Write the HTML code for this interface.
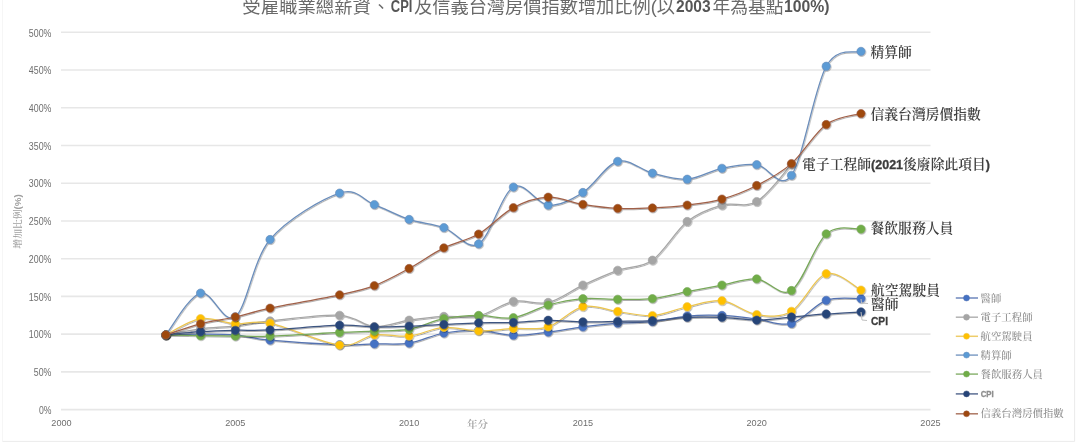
<!DOCTYPE html>
<html><head><meta charset="utf-8"><title>受雇職業總薪資、CPI及信義台灣房價指數增加比例</title>
<style>
html,body{margin:0;padding:0;background:#fff;}
body{width:1076px;height:442px;overflow:hidden;}
svg{display:block;filter:blur(0.3px);}
.ax{font-family:"Liberation Sans","Noto Sans CJK TC",sans-serif;font-size:10px;fill:#6e6e6e;}
.lab{font-family:"Liberation Serif","Noto Serif CJK TC","Noto Serif CJK SC",serif;font-size:13.8px;font-weight:600;fill:#404040;}
.labb{font-family:"Liberation Sans","Noto Sans CJK TC",sans-serif;font-weight:bold;font-size:11.5px;fill:#3c3c3c;stroke:#3c3c3c;stroke-width:0.3px;}
.leg{font-family:"Liberation Serif","Noto Serif CJK TC","Noto Serif CJK SC",serif;font-size:10.4px;font-weight:500;fill:#8c8c8c;}
.legs{font-family:"Liberation Sans",sans-serif;font-size:9.3px;font-weight:bold;fill:#8e8e8e;stroke:#8e8e8e;stroke-width:0.35px;}
.ttl{font-family:"Liberation Sans","Noto Sans CJK TC",sans-serif;font-weight:400;font-size:18px;fill:#6a6a6a;}
.ttlb{font-family:"Liberation Sans","Noto Sans CJK TC",sans-serif;font-weight:bold;font-size:16px;fill:#555;}
</style></head><body>
<svg width="1076" height="442" viewBox="0 0 1076 442">
<defs><filter id="sh" filterUnits="userSpaceOnUse" x="0" y="0" width="1076" height="442"><feDropShadow dx="0.6" dy="0.9" stdDeviation="0.6" flood-color="#000" flood-opacity="0.35"/></filter></defs>
<line x1="2.5" y1="0" x2="2.5" y2="441.5" stroke="#f6f6f6" stroke-width="1"/><line x1="1074.6" y1="0" x2="1074.6" y2="441.5" stroke="#ebebeb" stroke-width="1"/><line x1="2.5" y1="441.4" x2="1074.6" y2="441.4" stroke="#ebebeb" stroke-width="1"/>
<g><text class="ttl" x="242.3" y="12.5" textLength="128.6" lengthAdjust="spacingAndGlyphs">受雇職業總薪資</text><text class="ttl" x="372" y="12.5">、</text><text class="ttlb" x="390.8" y="12" textLength="21.6" lengthAdjust="spacingAndGlyphs">CPI</text><text class="ttl" x="414" y="12.5" textLength="261" lengthAdjust="spacingAndGlyphs">及信義台灣房價指數增加比例(以</text><text class="ttlb" x="676" y="12" textLength="34.6" lengthAdjust="spacingAndGlyphs">2003</text><text class="ttl" x="712.4" y="12.5" textLength="71" lengthAdjust="spacingAndGlyphs">年為基點</text><text class="ttlb" x="784" y="12" textLength="45.5" lengthAdjust="spacingAndGlyphs">100%)</text></g>
<line x1="61" y1="409.60" x2="930.5" y2="409.60" stroke="#e7e7e7" stroke-width="1.6"/><text class="ax" x="38.90" y="413.80" textLength="12.5" lengthAdjust="spacingAndGlyphs">0%</text>
<line x1="61" y1="371.87" x2="930.5" y2="371.87" stroke="#e7e7e7" stroke-width="1.6"/><text class="ax" x="33.80" y="376.07" textLength="17.6" lengthAdjust="spacingAndGlyphs">50%</text>
<line x1="61" y1="334.14" x2="930.5" y2="334.14" stroke="#e7e7e7" stroke-width="1.6"/><text class="ax" x="28.80" y="338.34" textLength="22.6" lengthAdjust="spacingAndGlyphs">100%</text>
<line x1="61" y1="296.41" x2="930.5" y2="296.41" stroke="#e7e7e7" stroke-width="1.6"/><text class="ax" x="28.80" y="300.61" textLength="22.6" lengthAdjust="spacingAndGlyphs">150%</text>
<line x1="61" y1="258.68" x2="930.5" y2="258.68" stroke="#e7e7e7" stroke-width="1.6"/><text class="ax" x="28.80" y="262.88" textLength="22.6" lengthAdjust="spacingAndGlyphs">200%</text>
<line x1="61" y1="220.95" x2="930.5" y2="220.95" stroke="#e7e7e7" stroke-width="1.6"/><text class="ax" x="28.80" y="225.15" textLength="22.6" lengthAdjust="spacingAndGlyphs">250%</text>
<line x1="61" y1="183.22" x2="930.5" y2="183.22" stroke="#e7e7e7" stroke-width="1.6"/><text class="ax" x="28.80" y="187.42" textLength="22.6" lengthAdjust="spacingAndGlyphs">300%</text>
<line x1="61" y1="145.49" x2="930.5" y2="145.49" stroke="#e7e7e7" stroke-width="1.6"/><text class="ax" x="28.80" y="149.69" textLength="22.6" lengthAdjust="spacingAndGlyphs">350%</text>
<line x1="61" y1="107.76" x2="930.5" y2="107.76" stroke="#e7e7e7" stroke-width="1.6"/><text class="ax" x="28.80" y="111.96" textLength="22.6" lengthAdjust="spacingAndGlyphs">400%</text>
<line x1="61" y1="70.03" x2="930.5" y2="70.03" stroke="#e7e7e7" stroke-width="1.6"/><text class="ax" x="28.80" y="74.23" textLength="22.6" lengthAdjust="spacingAndGlyphs">450%</text>
<line x1="61" y1="32.30" x2="930.5" y2="32.30" stroke="#e7e7e7" stroke-width="1.6"/><text class="ax" x="28.80" y="36.50" textLength="22.6" lengthAdjust="spacingAndGlyphs">500%</text>
<text class="ax" x="51.35" y="426.4" style="font-size:9.4px" textLength="20.3" lengthAdjust="spacingAndGlyphs">2000</text><text class="ax" x="225.15" y="426.4" style="font-size:9.4px" textLength="20.3" lengthAdjust="spacingAndGlyphs">2005</text><text class="ax" x="398.95" y="426.4" style="font-size:9.4px" textLength="20.3" lengthAdjust="spacingAndGlyphs">2010</text><text class="ax" x="572.75" y="426.4" style="font-size:9.4px" textLength="20.3" lengthAdjust="spacingAndGlyphs">2015</text><text class="ax" x="746.55" y="426.4" style="font-size:9.4px" textLength="20.3" lengthAdjust="spacingAndGlyphs">2020</text><text class="ax" x="920.35" y="426.4" style="font-size:9.4px" textLength="20.3" lengthAdjust="spacingAndGlyphs">2025</text>
<text x="467" y="428" style="font-family:'Liberation Serif','Noto Serif CJK TC','Noto Serif CJK SC',serif;font-size:10.5px;font-weight:600;fill:#a0a0a0">年分</text>
<text transform="translate(21.3,221.4) rotate(-90)" text-anchor="middle" style="font-family:'Liberation Serif','Noto Serif CJK TC','Noto Serif CJK SC',serif;font-size:8.6px;font-weight:600;fill:#a0a0a0" textLength="54.5" lengthAdjust="spacingAndGlyphs">增加比例<tspan style="font-family:'Liberation Sans',sans-serif;font-weight:bold">(%)</tspan></text>
<g filter="url(#sh)"><path d="M165.78,334.89 C171.57,334.77 188.95,334.14 200.54,334.14 C212.13,334.14 223.71,333.89 235.30,334.89 C246.89,335.90 252.68,338.54 270.06,340.18 C287.44,341.81 322.20,344.09 339.58,344.70 C356.96,345.32 362.75,344.14 374.34,343.87 C385.93,343.61 397.51,344.93 409.10,343.12 C420.69,341.31 432.27,335.13 443.86,333.01 C455.45,330.88 467.03,330.00 478.62,330.37 C490.21,330.73 501.79,334.92 513.38,335.20 C524.97,335.47 536.55,333.41 548.14,332.03 C559.73,330.64 571.31,328.37 582.90,326.90 C594.49,325.42 606.07,324.07 617.66,323.20 C629.25,322.33 640.83,322.88 652.42,321.69 C664.01,320.49 675.59,317.07 687.18,316.03 C698.77,314.99 710.35,314.92 721.94,315.43 C733.53,315.93 745.11,317.70 756.70,319.05 C768.29,320.39 779.87,326.62 791.46,323.50 C803.05,320.38 814.63,304.47 826.22,300.33 C837.81,296.20 855.19,298.95 860.98,298.67" fill="none" stroke="#5472b0" stroke-width="1.25" stroke-linejoin="round"/>
<circle cx="165.78" cy="334.89" r="4.15" fill="#4472C4" stroke="#5472b0" stroke-width="0.6"/><circle cx="200.54" cy="334.14" r="4.15" fill="#4472C4" stroke="#5472b0" stroke-width="0.6"/><circle cx="235.30" cy="334.89" r="4.15" fill="#4472C4" stroke="#5472b0" stroke-width="0.6"/><circle cx="270.06" cy="340.18" r="4.15" fill="#4472C4" stroke="#5472b0" stroke-width="0.6"/><circle cx="339.58" cy="344.70" r="4.15" fill="#4472C4" stroke="#5472b0" stroke-width="0.6"/><circle cx="374.34" cy="343.87" r="4.15" fill="#4472C4" stroke="#5472b0" stroke-width="0.6"/><circle cx="409.10" cy="343.12" r="4.15" fill="#4472C4" stroke="#5472b0" stroke-width="0.6"/><circle cx="443.86" cy="333.01" r="4.15" fill="#4472C4" stroke="#5472b0" stroke-width="0.6"/><circle cx="478.62" cy="330.37" r="4.15" fill="#4472C4" stroke="#5472b0" stroke-width="0.6"/><circle cx="513.38" cy="335.20" r="4.15" fill="#4472C4" stroke="#5472b0" stroke-width="0.6"/><circle cx="548.14" cy="332.03" r="4.15" fill="#4472C4" stroke="#5472b0" stroke-width="0.6"/><circle cx="582.90" cy="326.90" r="4.15" fill="#4472C4" stroke="#5472b0" stroke-width="0.6"/><circle cx="617.66" cy="323.20" r="4.15" fill="#4472C4" stroke="#5472b0" stroke-width="0.6"/><circle cx="652.42" cy="321.69" r="4.15" fill="#4472C4" stroke="#5472b0" stroke-width="0.6"/><circle cx="687.18" cy="316.03" r="4.15" fill="#4472C4" stroke="#5472b0" stroke-width="0.6"/><circle cx="721.94" cy="315.43" r="4.15" fill="#4472C4" stroke="#5472b0" stroke-width="0.6"/><circle cx="756.70" cy="319.05" r="4.15" fill="#4472C4" stroke="#5472b0" stroke-width="0.6"/><circle cx="791.46" cy="323.50" r="4.15" fill="#4472C4" stroke="#5472b0" stroke-width="0.6"/><circle cx="826.22" cy="300.33" r="4.15" fill="#4472C4" stroke="#5472b0" stroke-width="0.6"/><circle cx="860.98" cy="298.67" r="4.15" fill="#4472C4" stroke="#5472b0" stroke-width="0.6"/></g>
<g filter="url(#sh)"><path d="M165.78,334.89 C171.57,333.89 188.95,330.37 200.54,328.86 C212.13,327.35 223.71,327.16 235.30,325.84 C246.89,324.52 252.68,322.70 270.06,320.93 C287.44,319.17 322.20,314.33 339.58,315.28 C356.96,316.22 362.75,325.78 374.34,326.59 C385.93,327.41 397.51,321.88 409.10,320.18 C420.69,318.48 432.27,317.10 443.86,316.41 C455.45,315.72 467.03,318.53 478.62,316.03 C490.21,313.53 501.79,303.65 513.38,301.39 C524.97,299.13 536.55,305.16 548.14,302.45 C559.73,299.73 571.31,290.45 582.90,285.09 C594.49,279.73 606.07,274.45 617.66,270.30 C629.25,266.15 640.83,268.33 652.42,260.19 C664.01,252.05 675.59,230.66 687.18,221.48 C698.77,212.30 710.35,208.42 721.94,205.10 C733.53,201.78 745.11,208.35 756.70,201.56 C768.29,194.77 785.67,170.56 791.46,164.36" fill="none" stroke="#a6a6a6" stroke-width="1.25" stroke-linejoin="round"/>
<circle cx="165.78" cy="334.89" r="4.15" fill="#A5A5A5" stroke="#a6a6a6" stroke-width="0.6"/><circle cx="200.54" cy="328.86" r="4.15" fill="#A5A5A5" stroke="#a6a6a6" stroke-width="0.6"/><circle cx="235.30" cy="325.84" r="4.15" fill="#A5A5A5" stroke="#a6a6a6" stroke-width="0.6"/><circle cx="270.06" cy="320.93" r="4.15" fill="#A5A5A5" stroke="#a6a6a6" stroke-width="0.6"/><circle cx="339.58" cy="315.28" r="4.15" fill="#A5A5A5" stroke="#a6a6a6" stroke-width="0.6"/><circle cx="374.34" cy="326.59" r="4.15" fill="#A5A5A5" stroke="#a6a6a6" stroke-width="0.6"/><circle cx="409.10" cy="320.18" r="4.15" fill="#A5A5A5" stroke="#a6a6a6" stroke-width="0.6"/><circle cx="443.86" cy="316.41" r="4.15" fill="#A5A5A5" stroke="#a6a6a6" stroke-width="0.6"/><circle cx="478.62" cy="316.03" r="4.15" fill="#A5A5A5" stroke="#a6a6a6" stroke-width="0.6"/><circle cx="513.38" cy="301.39" r="4.15" fill="#A5A5A5" stroke="#a6a6a6" stroke-width="0.6"/><circle cx="548.14" cy="302.45" r="4.15" fill="#A5A5A5" stroke="#a6a6a6" stroke-width="0.6"/><circle cx="582.90" cy="285.09" r="4.15" fill="#A5A5A5" stroke="#a6a6a6" stroke-width="0.6"/><circle cx="617.66" cy="270.30" r="4.15" fill="#A5A5A5" stroke="#a6a6a6" stroke-width="0.6"/><circle cx="652.42" cy="260.19" r="4.15" fill="#A5A5A5" stroke="#a6a6a6" stroke-width="0.6"/><circle cx="687.18" cy="221.48" r="4.15" fill="#A5A5A5" stroke="#a6a6a6" stroke-width="0.6"/><circle cx="721.94" cy="205.10" r="4.15" fill="#A5A5A5" stroke="#a6a6a6" stroke-width="0.6"/><circle cx="756.70" cy="201.56" r="4.15" fill="#A5A5A5" stroke="#a6a6a6" stroke-width="0.6"/><circle cx="791.46" cy="164.36" r="4.15" fill="#A5A5A5" stroke="#a6a6a6" stroke-width="0.6"/></g>
<g filter="url(#sh)"><path d="M165.78,334.89 C171.57,332.19 188.95,320.52 200.54,318.67 C212.13,316.82 223.71,323.05 235.30,323.80 C246.89,324.56 252.68,319.65 270.06,323.20 C287.44,326.74 322.20,343.14 339.58,345.08 C356.96,347.02 362.75,336.33 374.34,334.82 C385.93,333.31 397.51,337.27 409.10,336.03 C420.69,334.78 432.27,328.20 443.86,327.35 C455.45,326.49 467.03,330.71 478.62,330.90 C490.21,331.08 501.79,329.16 513.38,328.48 C524.97,327.80 536.55,330.47 548.14,326.82 C559.73,323.17 571.31,309.15 582.90,306.60 C594.49,304.04 606.07,310.01 617.66,311.50 C629.25,313.00 640.83,316.37 652.42,315.58 C664.01,314.78 675.59,309.23 687.18,306.75 C698.77,304.27 710.35,299.40 721.94,300.71 C733.53,302.02 745.11,312.84 756.70,314.60 C768.29,316.36 779.87,318.08 791.46,311.28 C803.05,304.47 814.63,277.31 826.22,273.77 C837.81,270.24 855.19,287.35 860.98,290.07" fill="none" stroke="#ecc550" stroke-width="1.25" stroke-linejoin="round"/>
<circle cx="165.78" cy="334.89" r="4.15" fill="#FFC000" stroke="#ecc550" stroke-width="0.6"/><circle cx="200.54" cy="318.67" r="4.15" fill="#FFC000" stroke="#ecc550" stroke-width="0.6"/><circle cx="235.30" cy="323.80" r="4.15" fill="#FFC000" stroke="#ecc550" stroke-width="0.6"/><circle cx="270.06" cy="323.20" r="4.15" fill="#FFC000" stroke="#ecc550" stroke-width="0.6"/><circle cx="339.58" cy="345.08" r="4.15" fill="#FFC000" stroke="#ecc550" stroke-width="0.6"/><circle cx="374.34" cy="334.82" r="4.15" fill="#FFC000" stroke="#ecc550" stroke-width="0.6"/><circle cx="409.10" cy="336.03" r="4.15" fill="#FFC000" stroke="#ecc550" stroke-width="0.6"/><circle cx="443.86" cy="327.35" r="4.15" fill="#FFC000" stroke="#ecc550" stroke-width="0.6"/><circle cx="478.62" cy="330.90" r="4.15" fill="#FFC000" stroke="#ecc550" stroke-width="0.6"/><circle cx="513.38" cy="328.48" r="4.15" fill="#FFC000" stroke="#ecc550" stroke-width="0.6"/><circle cx="548.14" cy="326.82" r="4.15" fill="#FFC000" stroke="#ecc550" stroke-width="0.6"/><circle cx="582.90" cy="306.60" r="4.15" fill="#FFC000" stroke="#ecc550" stroke-width="0.6"/><circle cx="617.66" cy="311.50" r="4.15" fill="#FFC000" stroke="#ecc550" stroke-width="0.6"/><circle cx="652.42" cy="315.58" r="4.15" fill="#FFC000" stroke="#ecc550" stroke-width="0.6"/><circle cx="687.18" cy="306.75" r="4.15" fill="#FFC000" stroke="#ecc550" stroke-width="0.6"/><circle cx="721.94" cy="300.71" r="4.15" fill="#FFC000" stroke="#ecc550" stroke-width="0.6"/><circle cx="756.70" cy="314.60" r="4.15" fill="#FFC000" stroke="#ecc550" stroke-width="0.6"/><circle cx="791.46" cy="311.28" r="4.15" fill="#FFC000" stroke="#ecc550" stroke-width="0.6"/><circle cx="826.22" cy="273.77" r="4.15" fill="#FFC000" stroke="#ecc550" stroke-width="0.6"/><circle cx="860.98" cy="290.07" r="4.15" fill="#FFC000" stroke="#ecc550" stroke-width="0.6"/></g>
<g filter="url(#sh)"><path d="M165.78,334.89 C171.57,327.93 188.95,296.11 200.54,293.09 C212.13,290.07 223.71,325.71 235.30,316.78 C246.89,307.85 252.68,260.13 270.06,239.51 C287.44,218.90 322.20,198.93 339.58,193.11 C356.96,187.28 362.75,200.19 374.34,204.58 C385.93,208.96 397.51,215.60 409.10,219.44 C420.69,223.28 432.27,223.52 443.86,227.59 C455.45,231.67 467.03,250.64 478.62,243.89 C490.21,237.14 501.79,193.52 513.38,187.07 C524.97,180.62 536.55,204.27 548.14,205.18 C559.73,206.08 571.31,199.81 582.90,192.50 C594.49,185.19 606.07,164.56 617.66,161.34 C629.25,158.12 640.83,170.20 652.42,173.18 C664.01,176.16 675.59,180.04 687.18,179.22 C698.77,178.40 710.35,170.71 721.94,168.28 C733.53,165.85 745.11,163.49 756.70,164.66 C768.29,165.83 779.87,191.70 791.46,175.30 C803.05,158.90 814.63,86.91 826.22,66.26 C837.81,45.61 855.19,53.87 860.98,51.39" fill="none" stroke="#6a8dbb" stroke-width="1.25" stroke-linejoin="round"/>
<circle cx="165.78" cy="334.89" r="4.15" fill="#5B9BD5" stroke="#6a8dbb" stroke-width="0.6"/><circle cx="200.54" cy="293.09" r="4.15" fill="#5B9BD5" stroke="#6a8dbb" stroke-width="0.6"/><circle cx="235.30" cy="316.78" r="4.15" fill="#5B9BD5" stroke="#6a8dbb" stroke-width="0.6"/><circle cx="270.06" cy="239.51" r="4.15" fill="#5B9BD5" stroke="#6a8dbb" stroke-width="0.6"/><circle cx="339.58" cy="193.11" r="4.15" fill="#5B9BD5" stroke="#6a8dbb" stroke-width="0.6"/><circle cx="374.34" cy="204.58" r="4.15" fill="#5B9BD5" stroke="#6a8dbb" stroke-width="0.6"/><circle cx="409.10" cy="219.44" r="4.15" fill="#5B9BD5" stroke="#6a8dbb" stroke-width="0.6"/><circle cx="443.86" cy="227.59" r="4.15" fill="#5B9BD5" stroke="#6a8dbb" stroke-width="0.6"/><circle cx="478.62" cy="243.89" r="4.15" fill="#5B9BD5" stroke="#6a8dbb" stroke-width="0.6"/><circle cx="513.38" cy="187.07" r="4.15" fill="#5B9BD5" stroke="#6a8dbb" stroke-width="0.6"/><circle cx="548.14" cy="205.18" r="4.15" fill="#5B9BD5" stroke="#6a8dbb" stroke-width="0.6"/><circle cx="582.90" cy="192.50" r="4.15" fill="#5B9BD5" stroke="#6a8dbb" stroke-width="0.6"/><circle cx="617.66" cy="161.34" r="4.15" fill="#5B9BD5" stroke="#6a8dbb" stroke-width="0.6"/><circle cx="652.42" cy="173.18" r="4.15" fill="#5B9BD5" stroke="#6a8dbb" stroke-width="0.6"/><circle cx="687.18" cy="179.22" r="4.15" fill="#5B9BD5" stroke="#6a8dbb" stroke-width="0.6"/><circle cx="721.94" cy="168.28" r="4.15" fill="#5B9BD5" stroke="#6a8dbb" stroke-width="0.6"/><circle cx="756.70" cy="164.66" r="4.15" fill="#5B9BD5" stroke="#6a8dbb" stroke-width="0.6"/><circle cx="791.46" cy="175.30" r="4.15" fill="#5B9BD5" stroke="#6a8dbb" stroke-width="0.6"/><circle cx="826.22" cy="66.26" r="4.15" fill="#5B9BD5" stroke="#6a8dbb" stroke-width="0.6"/><circle cx="860.98" cy="51.39" r="4.15" fill="#5B9BD5" stroke="#6a8dbb" stroke-width="0.6"/></g>
<g filter="url(#sh)"><path d="M165.78,334.89 C171.57,335.02 188.95,335.46 200.54,335.65 C212.13,335.84 223.71,335.96 235.30,336.03 C246.89,336.09 252.68,336.62 270.06,336.03 C287.44,335.44 322.20,333.30 339.58,332.48 C356.96,331.66 362.75,331.66 374.34,331.12 C385.93,330.58 397.51,331.31 409.10,329.24 C420.69,327.16 432.27,320.97 443.86,318.67 C455.45,316.37 467.03,315.59 478.62,315.43 C490.21,315.26 501.79,319.41 513.38,317.69 C524.97,315.97 536.55,308.26 548.14,305.09 C559.73,301.92 571.31,299.64 582.90,298.67 C594.49,297.71 606.07,299.28 617.66,299.28 C629.25,299.28 640.83,299.96 652.42,298.67 C664.01,297.39 675.59,293.84 687.18,291.58 C698.77,289.32 710.35,287.20 721.94,285.09 C733.53,282.98 745.11,278.00 756.70,278.90 C768.29,279.81 779.87,298.02 791.46,290.52 C803.05,283.03 814.63,244.17 826.22,233.93 C837.81,223.69 855.19,229.90 860.98,229.10" fill="none" stroke="#78a85a" stroke-width="1.25" stroke-linejoin="round"/>
<circle cx="165.78" cy="334.89" r="4.15" fill="#70AD47" stroke="#78a85a" stroke-width="0.6"/><circle cx="200.54" cy="335.65" r="4.15" fill="#70AD47" stroke="#78a85a" stroke-width="0.6"/><circle cx="235.30" cy="336.03" r="4.15" fill="#70AD47" stroke="#78a85a" stroke-width="0.6"/><circle cx="270.06" cy="336.03" r="4.15" fill="#70AD47" stroke="#78a85a" stroke-width="0.6"/><circle cx="339.58" cy="332.48" r="4.15" fill="#70AD47" stroke="#78a85a" stroke-width="0.6"/><circle cx="374.34" cy="331.12" r="4.15" fill="#70AD47" stroke="#78a85a" stroke-width="0.6"/><circle cx="409.10" cy="329.24" r="4.15" fill="#70AD47" stroke="#78a85a" stroke-width="0.6"/><circle cx="443.86" cy="318.67" r="4.15" fill="#70AD47" stroke="#78a85a" stroke-width="0.6"/><circle cx="478.62" cy="315.43" r="4.15" fill="#70AD47" stroke="#78a85a" stroke-width="0.6"/><circle cx="513.38" cy="317.69" r="4.15" fill="#70AD47" stroke="#78a85a" stroke-width="0.6"/><circle cx="548.14" cy="305.09" r="4.15" fill="#70AD47" stroke="#78a85a" stroke-width="0.6"/><circle cx="582.90" cy="298.67" r="4.15" fill="#70AD47" stroke="#78a85a" stroke-width="0.6"/><circle cx="617.66" cy="299.28" r="4.15" fill="#70AD47" stroke="#78a85a" stroke-width="0.6"/><circle cx="652.42" cy="298.67" r="4.15" fill="#70AD47" stroke="#78a85a" stroke-width="0.6"/><circle cx="687.18" cy="291.58" r="4.15" fill="#70AD47" stroke="#78a85a" stroke-width="0.6"/><circle cx="721.94" cy="285.09" r="4.15" fill="#70AD47" stroke="#78a85a" stroke-width="0.6"/><circle cx="756.70" cy="278.90" r="4.15" fill="#70AD47" stroke="#78a85a" stroke-width="0.6"/><circle cx="791.46" cy="290.52" r="4.15" fill="#70AD47" stroke="#78a85a" stroke-width="0.6"/><circle cx="826.22" cy="233.93" r="4.15" fill="#70AD47" stroke="#78a85a" stroke-width="0.6"/><circle cx="860.98" cy="229.10" r="4.15" fill="#70AD47" stroke="#78a85a" stroke-width="0.6"/></g>
<g filter="url(#sh)"><path d="M165.78,334.89 C171.57,334.37 188.95,332.49 200.54,331.73 C212.13,330.96 223.71,330.58 235.30,330.29 C246.89,330.00 252.68,330.83 270.06,329.99 C287.44,329.15 322.20,325.75 339.58,325.24 C356.96,324.72 362.75,326.74 374.34,326.90 C385.93,327.05 397.51,326.54 409.10,326.14 C420.69,325.74 432.27,325.03 443.86,324.48 C455.45,323.93 467.03,323.15 478.62,322.82 C490.21,322.49 501.79,322.95 513.38,322.52 C524.97,322.09 536.55,320.37 548.14,320.26 C559.73,320.14 571.31,321.66 582.90,321.84 C594.49,322.02 606.07,321.53 617.66,321.31 C629.25,321.10 640.83,321.21 652.42,320.56 C664.01,319.90 675.59,317.92 687.18,317.39 C698.77,316.86 710.35,316.94 721.94,317.39 C733.53,317.84 745.11,320.17 756.70,320.10 C768.29,320.04 779.87,318.03 791.46,317.01 C803.05,315.99 814.63,314.85 826.22,313.99 C837.81,313.14 855.19,312.23 860.98,311.88" fill="none" stroke="#3e5480" stroke-width="1.25" stroke-linejoin="round"/>
<circle cx="165.78" cy="334.89" r="4.15" fill="#264478" stroke="#3e5480" stroke-width="0.6"/><circle cx="200.54" cy="331.73" r="4.15" fill="#264478" stroke="#3e5480" stroke-width="0.6"/><circle cx="235.30" cy="330.29" r="4.15" fill="#264478" stroke="#3e5480" stroke-width="0.6"/><circle cx="270.06" cy="329.99" r="4.15" fill="#264478" stroke="#3e5480" stroke-width="0.6"/><circle cx="339.58" cy="325.24" r="4.15" fill="#264478" stroke="#3e5480" stroke-width="0.6"/><circle cx="374.34" cy="326.90" r="4.15" fill="#264478" stroke="#3e5480" stroke-width="0.6"/><circle cx="409.10" cy="326.14" r="4.15" fill="#264478" stroke="#3e5480" stroke-width="0.6"/><circle cx="443.86" cy="324.48" r="4.15" fill="#264478" stroke="#3e5480" stroke-width="0.6"/><circle cx="478.62" cy="322.82" r="4.15" fill="#264478" stroke="#3e5480" stroke-width="0.6"/><circle cx="513.38" cy="322.52" r="4.15" fill="#264478" stroke="#3e5480" stroke-width="0.6"/><circle cx="548.14" cy="320.26" r="4.15" fill="#264478" stroke="#3e5480" stroke-width="0.6"/><circle cx="582.90" cy="321.84" r="4.15" fill="#264478" stroke="#3e5480" stroke-width="0.6"/><circle cx="617.66" cy="321.31" r="4.15" fill="#264478" stroke="#3e5480" stroke-width="0.6"/><circle cx="652.42" cy="320.56" r="4.15" fill="#264478" stroke="#3e5480" stroke-width="0.6"/><circle cx="687.18" cy="317.39" r="4.15" fill="#264478" stroke="#3e5480" stroke-width="0.6"/><circle cx="721.94" cy="317.39" r="4.15" fill="#264478" stroke="#3e5480" stroke-width="0.6"/><circle cx="756.70" cy="320.10" r="4.15" fill="#264478" stroke="#3e5480" stroke-width="0.6"/><circle cx="791.46" cy="317.01" r="4.15" fill="#264478" stroke="#3e5480" stroke-width="0.6"/><circle cx="826.22" cy="313.99" r="4.15" fill="#264478" stroke="#3e5480" stroke-width="0.6"/><circle cx="860.98" cy="311.88" r="4.15" fill="#264478" stroke="#3e5480" stroke-width="0.6"/></g>
<g filter="url(#sh)"><path d="M165.78,334.89 C171.57,333.05 188.95,326.78 200.54,323.80 C212.13,320.82 223.71,319.61 235.30,317.01 C246.89,314.41 252.68,311.88 270.06,308.18 C287.44,304.48 322.20,298.57 339.58,294.83 C356.96,291.08 362.75,290.08 374.34,285.69 C385.93,281.31 397.51,274.79 409.10,268.49 C420.69,262.19 432.27,253.62 443.86,247.89 C455.45,242.15 467.03,240.78 478.62,234.08 C490.21,227.38 501.79,213.82 513.38,207.67 C524.97,201.52 536.55,197.72 548.14,197.18 C559.73,196.64 571.31,202.55 582.90,204.42 C594.49,206.30 606.07,207.83 617.66,208.42 C629.25,209.01 640.83,208.52 652.42,207.97 C664.01,207.42 675.59,206.59 687.18,205.10 C698.77,203.62 710.35,202.34 721.94,199.07 C733.53,195.80 745.11,191.39 756.70,185.48 C768.29,179.57 779.87,173.76 791.46,163.60 C803.05,153.44 814.63,132.85 826.22,124.51 C837.81,116.17 855.19,115.39 860.98,113.57" fill="none" stroke="#a06048" stroke-width="1.25" stroke-linejoin="round"/>
<circle cx="165.78" cy="334.89" r="4.15" fill="#9E480E" stroke="#a06048" stroke-width="0.6"/><circle cx="200.54" cy="323.80" r="4.15" fill="#9E480E" stroke="#a06048" stroke-width="0.6"/><circle cx="235.30" cy="317.01" r="4.15" fill="#9E480E" stroke="#a06048" stroke-width="0.6"/><circle cx="270.06" cy="308.18" r="4.15" fill="#9E480E" stroke="#a06048" stroke-width="0.6"/><circle cx="339.58" cy="294.83" r="4.15" fill="#9E480E" stroke="#a06048" stroke-width="0.6"/><circle cx="374.34" cy="285.69" r="4.15" fill="#9E480E" stroke="#a06048" stroke-width="0.6"/><circle cx="409.10" cy="268.49" r="4.15" fill="#9E480E" stroke="#a06048" stroke-width="0.6"/><circle cx="443.86" cy="247.89" r="4.15" fill="#9E480E" stroke="#a06048" stroke-width="0.6"/><circle cx="478.62" cy="234.08" r="4.15" fill="#9E480E" stroke="#a06048" stroke-width="0.6"/><circle cx="513.38" cy="207.67" r="4.15" fill="#9E480E" stroke="#a06048" stroke-width="0.6"/><circle cx="548.14" cy="197.18" r="4.15" fill="#9E480E" stroke="#a06048" stroke-width="0.6"/><circle cx="582.90" cy="204.42" r="4.15" fill="#9E480E" stroke="#a06048" stroke-width="0.6"/><circle cx="617.66" cy="208.42" r="4.15" fill="#9E480E" stroke="#a06048" stroke-width="0.6"/><circle cx="652.42" cy="207.97" r="4.15" fill="#9E480E" stroke="#a06048" stroke-width="0.6"/><circle cx="687.18" cy="205.10" r="4.15" fill="#9E480E" stroke="#a06048" stroke-width="0.6"/><circle cx="721.94" cy="199.07" r="4.15" fill="#9E480E" stroke="#a06048" stroke-width="0.6"/><circle cx="756.70" cy="185.48" r="4.15" fill="#9E480E" stroke="#a06048" stroke-width="0.6"/><circle cx="791.46" cy="163.60" r="4.15" fill="#9E480E" stroke="#a06048" stroke-width="0.6"/><circle cx="826.22" cy="124.51" r="4.15" fill="#9E480E" stroke="#a06048" stroke-width="0.6"/><circle cx="860.98" cy="113.57" r="4.15" fill="#9E480E" stroke="#a06048" stroke-width="0.6"/></g>
<text class="lab" x="870.5" y="56.8">精算師</text><text class="lab" x="870.5" y="119.2">信義台灣房價指數</text><text class="lab" x="802.1" y="168.5">電子工程師<tspan class="labb" style="font-size:12.5px">(2021</tspan>後廢除此項目<tspan class="labb" style="font-size:12.5px">)</tspan></text><text class="lab" x="870.5" y="233.3">餐飲服務人員</text><text class="lab" x="871" y="295.3">航空駕駛員</text><text class="lab" x="871" y="309.4">醫師</text><text class="labb" x="871" y="325.1" textLength="17" lengthAdjust="spacingAndGlyphs">CPI</text>
<polyline points="861,299 861.5,303 868,303.5" fill="none" stroke="#bfbfbf" stroke-width="1"/><polyline points="861,312 862,320 867,320.5" fill="none" stroke="#bfbfbf" stroke-width="1"/>
<line x1="955.8" y1="298.00" x2="978" y2="298.00" stroke="#5472b0" stroke-width="1.5" opacity="0.85"/><circle cx="966.5" cy="298.00" r="3" fill="#4472C4" stroke="#5472b0" stroke-width="0.5"/><text class="leg" x="980.6" y="301.60">醫師</text>
<line x1="955.8" y1="317.20" x2="978" y2="317.20" stroke="#a6a6a6" stroke-width="1.5" opacity="0.85"/><circle cx="966.5" cy="317.20" r="3" fill="#A5A5A5" stroke="#a6a6a6" stroke-width="0.5"/><text class="leg" x="980.6" y="320.80">電子工程師</text>
<line x1="955.8" y1="336.30" x2="978" y2="336.30" stroke="#ecc550" stroke-width="1.5" opacity="0.85"/><circle cx="966.5" cy="336.30" r="3" fill="#FFC000" stroke="#ecc550" stroke-width="0.5"/><text class="leg" x="980.6" y="339.90">航空駕駛員</text>
<line x1="955.8" y1="355.10" x2="978" y2="355.10" stroke="#6a8dbb" stroke-width="1.5" opacity="0.85"/><circle cx="966.5" cy="355.10" r="3" fill="#5B9BD5" stroke="#6a8dbb" stroke-width="0.5"/><text class="leg" x="980.6" y="358.70">精算師</text>
<line x1="955.8" y1="374.10" x2="978" y2="374.10" stroke="#78a85a" stroke-width="1.5" opacity="0.85"/><circle cx="966.5" cy="374.10" r="3" fill="#70AD47" stroke="#78a85a" stroke-width="0.5"/><text class="leg" x="980.6" y="377.70">餐飲服務人員</text>
<line x1="955.8" y1="393.90" x2="978" y2="393.90" stroke="#3e5480" stroke-width="1.5" opacity="0.85"/><circle cx="966.5" cy="393.90" r="3" fill="#264478" stroke="#3e5480" stroke-width="0.5"/><text class="legs" x="980.7" y="397.00" textLength="13" lengthAdjust="spacingAndGlyphs">CPI</text>
<line x1="955.8" y1="413.80" x2="978" y2="413.80" stroke="#a06048" stroke-width="1.5" opacity="0.85"/><circle cx="966.5" cy="413.80" r="3" fill="#9E480E" stroke="#a06048" stroke-width="0.5"/><text class="leg" x="980.6" y="417.40">信義台灣房價指數</text>
</svg>
</body></html>
